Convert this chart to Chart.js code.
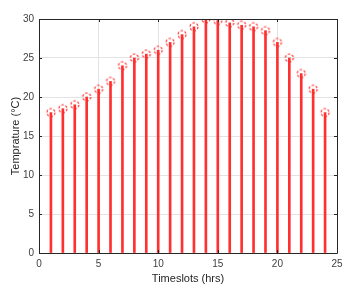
<!DOCTYPE html>
<html><head><meta charset="utf-8">
<script src="https://cdn.jsdelivr.net/npm/chart.js@4"></script>
<style>html,body{margin:0;padding:0;background:#fff}#wrap{width:357px;height:291px}</style>
</head><body><div id="wrap"><canvas id="c" width="357" height="291"></canvas></div>
<script>
const timeslots = [1,2,3,4,5,6,7,8,9,10,11,12,13,14,15,16,17,18,19,20,21,22,23,24];
const temperature = [18,18.5,19,20,21,22,24,25,25.5,26,27,28,29,30,29.8,29.5,29.2,29,28.5,27,25,23,21,18];
const xTicks = [0,5,10,15,20,25];
const yTicks = [0,5,10,15,20,25,30];

const pts = timeslots.map((x,i)=>({x:x,y:temperature[i]}));

// dashed circle marker
const mk = document.createElement('canvas');
mk.width = 12; mk.height = 12;
const mc = mk.getContext('2d');
mc.strokeStyle = '#ff2a2a';
mc.lineWidth = 1.2;
mc.setLineDash([2.4,1.8]);
mc.beginPath(); mc.arc(6,6,4,0,Math.PI*2); mc.stroke();

const FONT = "'Liberation Sans', Arial, sans-serif";
const boxPlugin = {
  id:'box',
  afterDraw(chart){
    const {ctx, chartArea:a, scales} = chart;
    ctx.save();
    ctx.strokeStyle = '#262626';
    ctx.lineWidth = 1;
    ctx.beginPath();
    ctx.rect(Math.round(a.left)+0.5, Math.round(a.top)+0.5, Math.round(a.right-a.left), Math.round(a.bottom-a.top));
    ctx.stroke();
    ctx.beginPath();
    xTicks.forEach(v=>{
      const px = Math.round(scales.x.getPixelForValue(v))+0.5;
      ctx.moveTo(px,a.bottom); ctx.lineTo(px,a.bottom-3);
      ctx.moveTo(px,a.top); ctx.lineTo(px,a.top+3);
    });
    yTicks.forEach(v=>{
      const py = Math.round(scales.y.getPixelForValue(v))+0.5;
      ctx.moveTo(a.left,py); ctx.lineTo(a.left+3,py);
      ctx.moveTo(a.right,py); ctx.lineTo(a.right-3,py);
    });
    ctx.stroke();
    ctx.restore();
  }
};

new Chart(document.getElementById('c'), {
  data:{
    datasets:[
      {type:'scatter', data:pts, pointStyle:mk, pointRadius:6, showLine:false, order:0},
      {type:'bar', data:pts, backgroundColor:'#ff3030', barThickness:2, order:1}
    ]
  },
  options:{
    responsive:false, animation:false,
    layout:{padding:{top:19,right:20,left:9,bottom:5}},
    plugins:{legend:{display:false},tooltip:{enabled:false}},
    scales:{
      x:{type:'linear', min:0, max:25, offset:false,
        afterBuildTicks(s){s.ticks = xTicks.map(v=>({value:v}));},
        afterFit(s){s.height=33;},
        grid:{color:'#e3e3e3', drawTicks:false, offset:false},
        border:{display:false},
        ticks:{padding:5, color:'#404040', font:{family:FONT,size:10}, maxRotation:0},
        title:{display:true, text:'Timeslots (hrs)', color:'#262626', font:{family:FONT,size:11}, padding:{top:0,bottom:0}}
      },
      y:{type:'linear', min:0, max:30,
        afterBuildTicks(s){s.ticks = yTicks.map(v=>({value:v}));},
        afterFit(s){s.width=30;},
        grid:{color:'#e3e3e3', drawTicks:false},
        border:{display:false},
        ticks:{padding:5, color:'#404040', font:{family:FONT,size:10}},
        title:{display:true, text:'Temprature (°C)', color:'#262626', font:{family:FONT,size:11}, padding:{top:0,bottom:0}}
      }
    }
  },
  plugins:[boxPlugin]
});
</script></body></html>
